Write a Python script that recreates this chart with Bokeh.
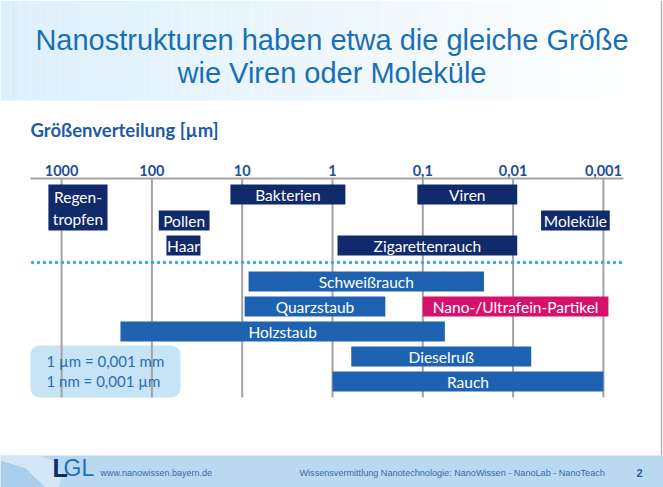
import numpy as np
from bokeh.plotting import figure
from bokeh.models import Range1d, BoxAnnotation
from bokeh.core.properties import value
from bokeh.embed import file_html
from bokeh.resources import INLINE

# ---------------- data ----------------
tick_vals = [1000, 100, 10, 1, 0.1, 0.01, 0.001]
tick_labels = ["1000", "100", "10", "1", "0,1", "0,01", "0,001"]

names = ["Regen-\ntropfen", "Bakterien", "Viren", "Pollen", "Moleküle", "Haar",
         "Zigarettenrauch", "Schweißrauch", "Quarzstaub", "Nano-/Ultrafein-Partikel",
         "Holzstaub", "Dieselruß", "Rauch"]
size_max = [1400, 13.5, 0.115, 84, 0.0049, 69, 0.88, 8.5, 9.4, 0.1, 223, 0.62, 1.0]
size_min = [310, 0.72, 0.009, 23, 0.00085, 29, 0.009, 0.021, 0.26, 0.00088, 0.057, 0.0063, 0.001]
rows = [1, 1, 1, 2, 2, 3, 3, 4, 5, 5, 6, 7, 8]
row_span = [2, 1, 1, 1, 1, 1, 1, 1, 1, 1, 1, 1, 1]
group = ["natur", "natur", "natur", "natur", "natur", "natur", "natur",
         "technik", "technik", "nano", "technik", "technik", "technik"]

title_lines = ["Nanostrukturen haben etwa die gleiche Größe", "wie Viren oder Moleküle"]
subtitle = "Größenverteilung [µm]"
info_lines = ["1 µm = 0,001 mm", "1 nm = 0,001 µm"]
footer_url = "www.nanowissen.bayern.de"
footer_text = "Wissensvermittlung Nanotechnologie:  NanoWissen - NanoLab - NanoTeach"
page_no = "2"

# ---------------- style / layout ----------------
W, H = 663, 487
colors = {"natur": "#102a6b", "technik": "#1e63b1", "nano": "#d6116c"}
row_top = {1: 184, 2: 210, 3: 235, 4: 271, 5: 296, 6: 321, 7: 346, 8: 371}
bar_h = 20
DEC = 90.3   # pixels per decade
X1 = 332     # pixel position of 1 µm

def px2x(px):
    return 10 ** ((X1 - px) / DEC)

p = figure(width=W, height=H, x_axis_type="log",
           x_range=Range1d(px2x(0), px2x(W)), y_range=Range1d(H, 0),
           output_backend="svg", toolbar_location=None, min_border=0)
p.axis.visible = False
p.grid.visible = False
p.outline_line_color = None
p.background_fill_color = "white"
p.border_fill_color = "white"

# title gradient band
n = 66
edges = np.linspace(0, W, n + 1)
cols = []
for i in range(n):
    t = min(1.0, (edges[i] + edges[i + 1]) / 2 / 640)
    r = int(220 + (255 - 220) * t)
    g = int(240 + (255 - 240) * t)
    b = int(252 + (255 - 252) * t)
    cols.append("#%02x%02x%02x" % (r, g, b))
p.quad(left=[px2x(e) for e in edges[:-1]], right=[px2x(e) for e in edges[1:]],
       top=0, bottom=100, fill_color=cols, line_color=None)

# title
p.text(x=[px2x(331.5)] * 2, y=[39, 72], text=title_lines, text_align="center",
       text_baseline="middle", text_font=value("Liberation Sans"),
       text_font_size="29px", text_color="#1a6fb4")

# subtitle
p.text(x=[px2x(30)], y=[129], text=[subtitle], text_align="left", text_baseline="middle",
       text_font=value("Lato"), text_font_style="bold", text_font_size="18.5px",
       text_color="#1f5aa5")

# grid lines and axis
p.segment(x0=tick_vals, x1=tick_vals, y0=178, y1=397, line_color="#a3a3a3", line_width=2)
p.segment(x0=[px2x(30)], x1=[px2x(623)], y0=178, y1=178, line_color="#a3a3a3", line_width=2)
p.text(x=tick_vals, y=[170] * len(tick_vals), text=tick_labels, text_align="center",
       text_baseline="middle", text_font=value("Lato"), text_font_style="bold",
       text_font_size="14.5px", text_color="#1f4e9a")

# dotted separator
p.line(x=[px2x(32), px2x(623)], y=[262, 262], line_color="#35a9e1", line_width=3.5,
       line_dash="0 6", line_cap="round")

# info box
p.add_layout(BoxAnnotation(left=px2x(30), right=px2x(180), top=345, bottom=397,
                           fill_color="#c6e4f6", fill_alpha=1, line_color=None,
                           border_radius=9, level="underlay"))
p.text(x=[px2x(46)] * 2, y=[360, 380], text=info_lines, text_align="left",
       text_baseline="middle", text_font=value("Lato"), text_font_size="15px",
       text_color="#2a6db6")

# bars
tops = [row_top[r] for r in rows]
bottoms = [row_top[r + s - 1] + bar_h for r, s in zip(rows, row_span)]
p.quad(left=size_max, right=size_min, top=tops, bottom=bottoms,
       fill_color=[colors[g] for g in group], line_color=None)

lx, ly, lt = [], [], []
for nm, a, b, t, bt in zip(names, size_max, size_min, tops, bottoms):
    parts = nm.split("\n")
    cy = (t + bt) / 2
    step = 22
    for k, part in enumerate(parts):
        lx.append(np.sqrt(a * b))
        ly.append(cy + (k - (len(parts) - 1) / 2) * step)
        lt.append(part)
p.text(x=lx, y=ly, text=lt, text_align="center", text_baseline="middle",
       text_font=value("Lato"), text_font_size="15.5px", text_color="white")

# footer band
p.quad(left=[px2x(0)], right=[px2x(W)], top=455, bottom=H, fill_color="#b9d9f1",
       line_color=None)
p.patch(x=[px2x(v) for v in [0, 40, 55, 62, 58, 45, 25, 0]],
        y=[455, 455, 462, 475, 487, 487, 468, 460], fill_color="#d3e7f7", line_color=None)
p.patch(x=[px2x(v) for v in [0, 25, 45, 58, 0]], y=[460, 468, 487, 487, 487],
        fill_color="#a9cfec", line_color=None)
p.text(x=[px2x(52)], y=[467], text=["L"], text_align="left", text_baseline="middle",
       text_font=value("Liberation Sans"), text_font_style="bold",
       text_font_size="25px", text_color="#102a6b")
p.text(x=[px2x(63)], y=[467], text=["GL"], text_align="left", text_baseline="middle",
       text_font=value("Liberation Sans"),
       text_font_size="23px", text_color="#1e6fb8")
p.text(x=[px2x(100)], y=[472], text=[footer_url], text_align="left", text_baseline="middle",
       text_font=value("Liberation Sans"), text_font_size="9px",
       text_color="#3b6aa3")
p.text(x=[px2x(299)], y=[472], text=[footer_text], text_align="left", text_baseline="middle",
       text_font=value("Liberation Sans"), text_font_size="9.1px",
       text_color="#3b6aa3")
p.text(x=[px2x(639)], y=[472], text=[page_no], text_align="center", text_baseline="middle",
       text_font=value("Liberation Sans"), text_font_style="bold", text_font_size="11px",
       text_color="#2a5c9a")

# slide border on the right
p.segment(x0=[px2x(661)], x1=[px2x(661)], y0=0, y1=455, line_color="#b5b5b5", line_width=1.5)

open("out.html", "w").write(file_html(p, INLINE))
